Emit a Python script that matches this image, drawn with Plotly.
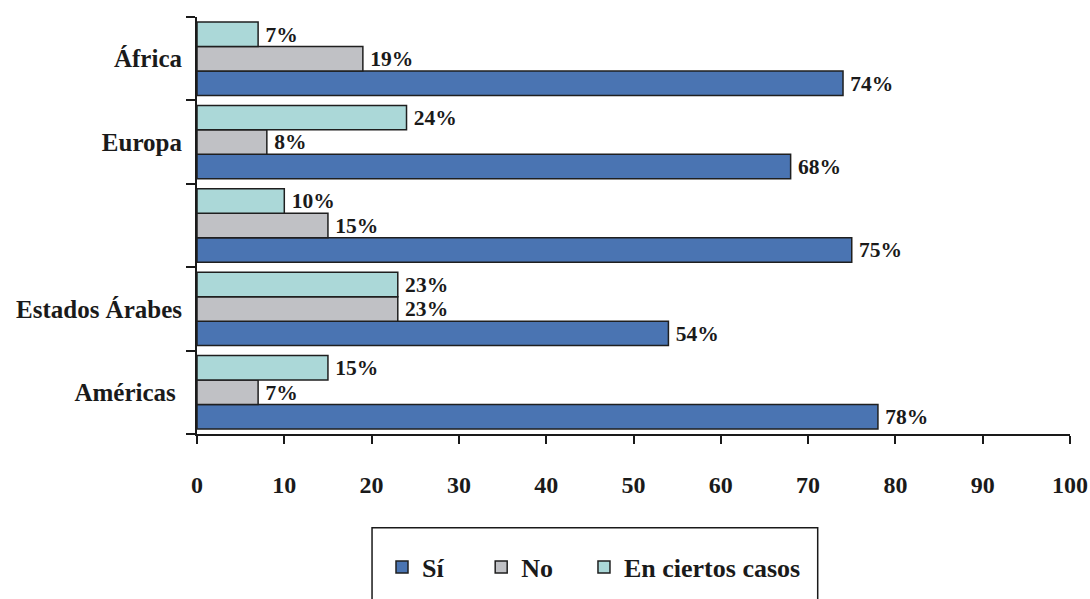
import plotly.graph_objects as go

# Regions, listed bottom to top
regions = ["Américas", "Estados Árabes", "Asia y el Pacífico", "Europa", "África"]
region_labels = ["Américas&nbsp;", "Estados Árabes", "", "Europa", "África"]

# Share of responses (%)
si = [78, 54, 75, 68, 74]
no = [7, 23, 15, 8, 19]
en_ciertos_casos = [15, 23, 10, 24, 7]

x_ticks = [0, 10, 20, 30, 40, 50, 60, 70, 80, 90, 100]

FONT = "Liberation Serif"
series = [
    ("<b>Sí</b>" + "&nbsp;" * 5, si, "#4A74B2"),
    ("<b>No</b>" + "&nbsp;" * 4, no, "#C0C1C5"),
    ("<b>En ciertos casos</b>", en_ciertos_casos, "#ABD8D8"),
]

fig = go.Figure()
for name, vals, color in series:
    fig.add_trace(go.Bar(
        y=regions, x=vals, name=name, orientation="h",
        marker=dict(color=color, line=dict(color="#1f1f1f", width=1.5)),
        text=[f"&#8201;<b>{v}%</b>" for v in vals], textposition="outside",
        textfont=dict(family=FONT, size=22, color="#1a1a1a"),
        cliponaxis=False,
    ))

fig.update_layout(
    width=1090, height=599,
    margin=dict(l=197, r=20, t=17, b=165),
    paper_bgcolor="white", plot_bgcolor="white",
    barmode="group", bargap=0.12, bargroupgap=0,
    font=dict(family=FONT, color="#1a1a1a"),
    showlegend=True,
    legend=dict(
        orientation="h", xref="container", yref="container",
        x=382 / 1090, y=1 - 567 / 599, xanchor="left", yanchor="middle",
        font=dict(family=FONT, size=26, color="#1a1a1a"),
        bgcolor="rgba(0,0,0,0)", itemclick=False, tracegroupgap=0,
    ),
    xaxis=dict(
        range=[0, 100], tickvals=x_ticks,
        ticktext=[f"<b>{t}</b>" for t in x_ticks],
        showgrid=False, zeroline=False,
        showline=True, linecolor="#1a1a1a", linewidth=2,
        ticks="outside", ticklen=8, tickwidth=2, tickcolor="#1a1a1a",
        ticklabelstandoff=20,
        tickfont=dict(family=FONT, size=24, color="#1a1a1a"),
        automargin=False, fixedrange=True,
    ),
    yaxis=dict(
        type="category", categoryorder="array", categoryarray=regions,
        tickmode="array", tickvals=regions,
        ticktext=[f"<b>{t}</b>" if t else "" for t in region_labels],
        tickson="boundaries",
        showgrid=False, zeroline=False,
        showline=True, linecolor="#1a1a1a", linewidth=2,
        ticks="outside", ticklen=9, tickwidth=2, tickcolor="#1a1a1a",
        ticklabelstandoff=8,
        tickfont=dict(family=FONT, size=25, color="#1a1a1a"),
        automargin=False, fixedrange=True,
    ),
    shapes=[dict(
        type="rect", xref="paper", yref="paper",
        x0=0.2005, x1=0.711, y0=-0.225, y1=-0.45,
        line=dict(color="#1a1a1a", width=1.5), fillcolor="rgba(0,0,0,0)",
    )],
)

fig.write_html("out.html")
